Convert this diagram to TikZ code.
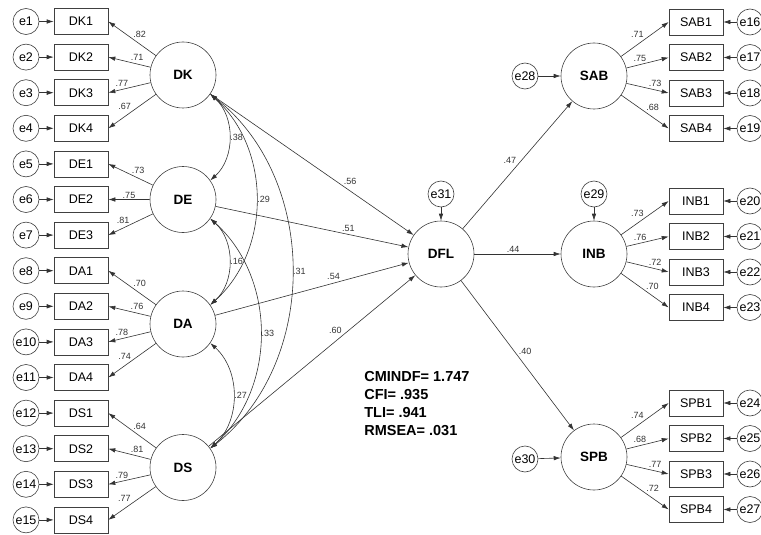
\documentclass[tikz,border=0pt]{standalone}
\usepackage{fontspec}
\setmainfont{Liberation Sans}
\usepackage{tikz}
\usetikzlibrary{arrows.meta}

\begin{document}
\begin{tikzpicture}[
  x=1pt, y=1pt, line width=0.6pt,
  lat/.style={draw=black!75, circle, minimum size=66pt, inner sep=0pt,
              font=\fontsize{13.5}{14}\selectfont\bfseries},
  ind/.style={draw=black!75, minimum width=54pt, minimum height=26pt, inner sep=0pt,
              font=\fontsize{12.5}{13}\selectfont},
  err/.style={draw=black!75, circle, minimum size=26pt, inner sep=0pt,
              font=\fontsize{12.5}{13}\selectfont},
  arr/.style={-{Latex[length=7pt, width=4.5pt]}, black!80},
  cov/.style={{Latex[length=7pt, width=4.5pt]}-{Latex[length=7pt, width=4.5pt]},
              black!80, out=-42, in=42},
  coef/.style={font=\fontsize{9}{10}\selectfont, inner sep=1pt},
  stats/.style={font=\fontsize{14.5}{18}\selectfont\bfseries, align=left, inner sep=0pt}
]
\useasboundingbox (0,0) rectangle (761,-535);
% exogenous factors
\node[lat] (DK) at (183,-75) {DK};
\node[lat] (DE) at (183,-199.5) {DE};
\node[lat] (DA) at (183,-324) {DA};
\node[lat] (DS) at (183,-467.5) {DS};
% mediator and outcomes
\node[lat] (DFL) at (441,-254) {DFL};
\node[lat] (SAB) at (594,-76) {SAB};
\node[lat] (INB) at (594,-254) {INB};
\node[lat] (SPB) at (594,-457) {SPB};
% left indicators
\foreach \n/\f/\c [count=\i] in {DK1/DK/.82, DK2/DK/.71, DK3/DK/.77, DK4/DK/.67,
    DE1/DE/.73, DE2/DE/.75, DE3/DE/.81, DA1/DA/.70, DA2/DA/.76, DA3/DA/.78, DA4/DA/.74,
    DS1/DS/.64, DS2/DS/.81, DS3/DS/.79, DS4/DS/.77} {
  \node[ind] (\n) at (81,{-21.5-35.6*(\i-1)}) {\n};
  \node[err] (e\i) at (26,{-21.5-35.6*(\i-1)}) {e\i};
  \draw[arr] (e\i) -- (\n);
  \draw[arr] (\f) -- node[coef, auto, swap] {\c} (\n.east);
}
% right indicators
\foreach \n/\f/\y/\c [count=\i from 16] in {SAB1/SAB/22/.71, SAB2/SAB/57.5/.75,
    SAB3/SAB/93/.73, SAB4/SAB/128.5/.68, INB1/INB/201/.73, INB2/INB/236.5/.76,
    INB3/INB/272/.72, INB4/INB/307.5/.70, SPB1/SPB/403/.74, SPB2/SPB/438.5/.68,
    SPB3/SPB/474/.77, SPB4/SPB/509.5/.72} {
  \node[ind] (\n) at (696,-\y) {\n};
  \node[err] (e\i) at (750,-\y) {e\i};
  \draw[arr] (e\i) -- (\n);
  \draw[arr] (\f) -- node[coef, auto] {\c} (\n.west);
}
% disturbances
\node[err] (e28) at (525,-76) {e28};
\node[err] (e29) at (594,-194) {e29};
\node[err] (e30) at (525,-459) {e30};
\node[err] (e31) at (441,-194) {e31};
\draw[arr] (e28) -- (SAB);
\draw[arr] (e29) -- (INB);
\draw[arr] (e30) -- (SPB);
\draw[arr] (e31) -- (DFL);
% structural paths
\draw[arr] (DK) -- node[coef, auto, pos=.65] {.56} (DFL);
\draw[arr] (DE) -- node[coef, auto, pos=.65] {.51} (DFL);
\draw[arr] (DA) -- node[coef, auto, pos=.65] {.54} (DFL);
\draw[arr] (DS) -- node[coef, auto, pos=.65] {.60} (DFL);
\draw[arr] (DFL) -- node[coef, auto, pos=.5] {.47} (SAB);
\draw[arr] (DFL) -- node[coef, auto, pos=.45] {.44} (INB);
\draw[arr] (DFL) -- node[coef, auto, pos=.5] {.40} (SPB);
% covariances
\draw[cov] (DK.-35) to node[coef, right] {.38} (DE.35);
\draw[cov] (DK.-35) to node[coef, right] {.29} (DA.35);
\draw[cov, out=-38, in=38] (DK.-35) to node[coef, right] {.31} (DS.35);
\draw[cov] (DE.-35) to node[coef, right] {.16} (DA.35);
\draw[cov] (DE.-35) to node[coef, right] {.33} (DS.35);
\draw[cov] (DA.-35) to node[coef, right] {.27} (DS.35);
% fit indices
\node[stats, anchor=north west] (indices) at (364,-371)
  {CMINDF= 1.747\\CFI= .935\\TLI= .941\\RMSEA= .031};
\end{tikzpicture}
\end{document}
